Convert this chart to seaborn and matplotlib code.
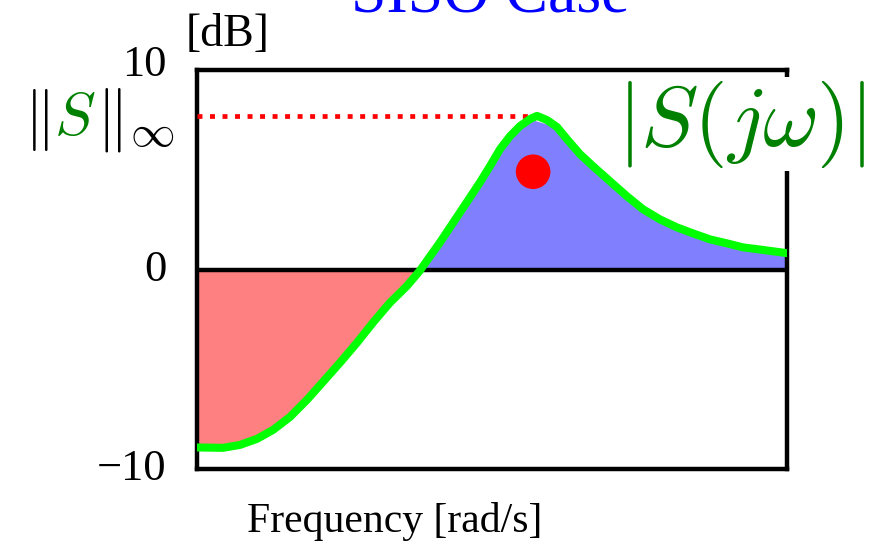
import numpy as np
import pandas as pd
import matplotlib
matplotlib.use("Agg")
import matplotlib.pyplot as plt
from matplotlib.transforms import ScaledTranslation
import seaborn as sns

# Sensitivity magnitude |S(jw)| in dB over frequency (rad/s)
freq = [0.0100, 0.0150, 0.0196, 0.0255, 0.0328, 0.0427, 0.0557, 0.0715,
        0.0932, 0.1215, 0.1560, 0.2035, 0.2653, 0.3250, 0.4441, 0.6068,
        0.8291, 0.9692, 1.133, 1.324, 1.548, 1.809, 2.019, 2.360, 2.759,
        3.225, 3.950, 4.838, 6.310, 8.228, 10.56, 13.77, 17.96, 23.06,
        30.06, 39.19, 50.30, 65.60, 100.0]
mag_db = [-8.92, -8.94, -8.79, -8.49, -8.04, -7.39, -6.53, -5.63,
          -4.67, -3.67, -2.66, -1.66, -0.82, -0.05, 1.36, 2.86,
          4.37, 5.18, 6.03, 6.68, 7.19, 7.54, 7.70, 7.49, 7.14,
          6.53, 5.78, 5.18, 4.42, 3.67, 3.02, 2.51, 2.11, 1.81,
          1.51, 1.31, 1.11, 1.00, 0.82]

# H-infinity norm marker line and the highlighted point
hinf_line_end = 1.75
dot_freq = [1.90]
dot_db = [4.9]

y_ticks = [-10, 0, 10]
y_tick_labels = ["\u221210", "0", "10"]

sns.set_theme(style="white")
plt.rcParams["font.family"] = ["Liberation Serif", "DejaVu Serif"]
plt.rcParams["mathtext.fontset"] = "cm"
for key in ("text.color", "axes.labelcolor", "xtick.color", "ytick.color"):
    plt.rcParams[key] = "black"

df = pd.DataFrame({"freq": freq, "mag": mag_db})

fig = plt.figure(figsize=(8.75, 5.55), dpi=100)
ax = fig.add_axes([197 / 875, 1 - 469 / 555, 590 / 875, 399 / 555])

x = np.array(freq)
y = np.array(mag_db)
# coarser outline for the shaded areas
idx = list(range(0, len(x), 3))
if idx[-1] != len(x) - 1:
    idx.append(len(x) - 1)
xf, yf = x[idx], y[idx]
ax.fill_between(xf, yf, 0, where=yf <= 0, interpolate=True,
                color="#ff8080", linewidth=0, zorder=1)
ax.fill_between(xf, yf, 0, where=yf >= 0, interpolate=True,
                color="#8080ff", linewidth=0, zorder=1)

ax.axhline(0, color="black", lw=3.2, zorder=2)

peak = max(mag_db)
ax.hlines(peak, freq[0], hinf_line_end, colors="red", lw=3.4,
          linestyles=(0, (1.05, 1.6)), zorder=3)

sns.lineplot(data=df, x="freq", y="mag", ax=ax, color="#00ff00",
             lw=5.8, zorder=4, sort=False)
sns.scatterplot(x=dot_freq, y=dot_db, ax=ax, color="red", s=620,
                edgecolor="none", zorder=5)

ax.set_xscale("log")
ax.set_xlim(freq[0], freq[-1])
ax.set_ylim(-10, 10)
ax.set_xticks([])
ax.set_xticks([], minor=True)
ax.set_yticks(y_ticks)
ax.set_yticklabels(y_tick_labels, fontsize=32)
ax.tick_params(axis="y", length=0, pad=22)
# nudge the tick labels upward (pixels)
for lab, dy in zip(ax.get_yticklabels(), [4, 4, 9]):
    lab.set_transform(lab.get_transform()
                      + ScaledTranslation(0, dy / 100, fig.dpi_scale_trans))
ax.set_xlabel("")
ax.set_ylabel("")
for s in ax.spines.values():
    s.set_color("black")
    s.set_linewidth(3.2)

# annotations
fig.text(490 / 875, 1 - 12 / 555, "SISO Case", color="blue", fontsize=46,
         ha="center", va="baseline")
fig.text(228 / 875, 1 - 35 / 555, "[dB]", fontsize=33, ha="center",
         va="center")
fig.text(395 / 875, 1 - 532 / 555, "Frequency [rad/s]", fontsize=30,
         ha="center", va="baseline")

base = 1 - 135 / 555
fig.text(24 / 875, base, r"$\Vert$", fontsize=44, ha="left", va="baseline")
fig.text(54 / 875, base, r"$S$", fontsize=44, color="green", ha="left",
         va="baseline")
fig.text(96 / 875, base, r"$\Vert_\infty$", fontsize=46, ha="left",
         va="baseline")

fig.text(741 / 875, 1 - 124 / 555, r"$|S(j\omega)|$", fontsize=62,
         color="green", ha="center", va="center",
         bbox=dict(facecolor="white", edgecolor="none", pad=1))

fig.savefig("out.png", dpi=100)
